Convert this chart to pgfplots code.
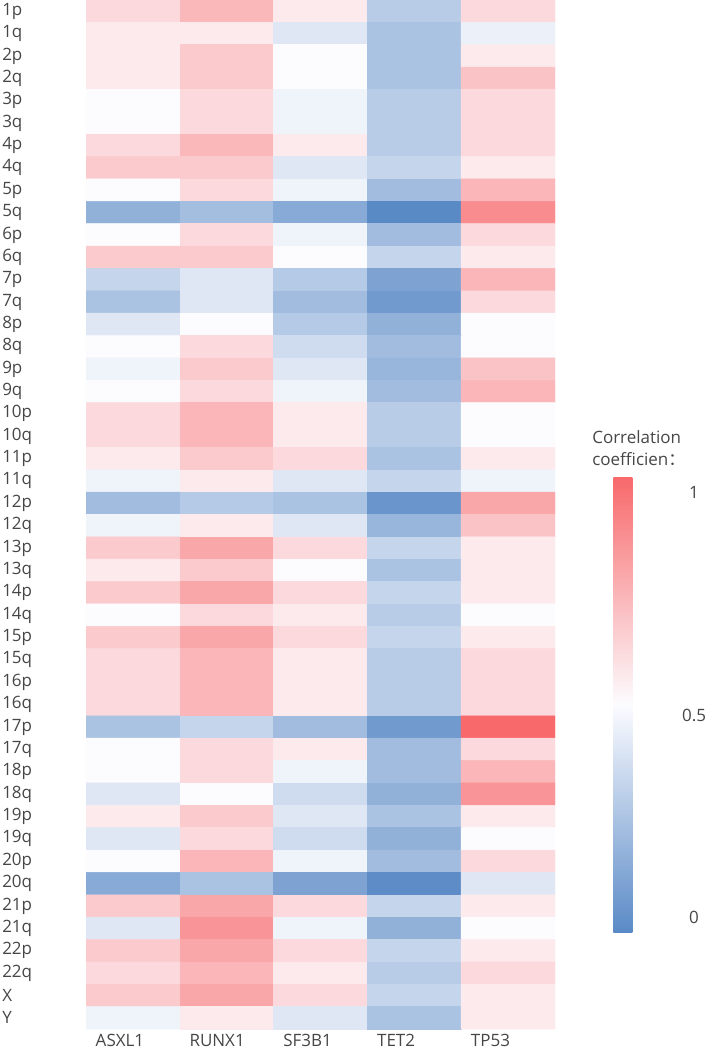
\documentclass[border=0pt]{standalone}
\usepackage{pgfplots}
\pgfplotsset{compat=1.18}
\usepackage{fontspec}
\setmainfont{Open Sans}
\newfontfamily\cjk{Noto Sans CJK SC}
\definecolor{lbl}{RGB}{70,70,70}
\newcommand{\lblfont}{\fontsize{12.75}{15}\selectfont}
\begin{document}
\begin{tikzpicture}[x=0.75pt,y=0.75pt]
\path[use as bounding box] (0,0) rectangle (709,-1049);
\begin{axis}[
  at={(64.5pt,0pt)}, anchor=north west,
  scale only axis, width=351.75pt, height=771.75pt,
  xmin=-0.5, xmax=4.5, ymin=-0.5, ymax=45.5, y dir=reverse,
  axis line style={draw=none}, major tick length=0pt,
  xtick={-0.399,0.601,1.601,2.601,3.601},
  xticklabels={ASXL1,RUNX1,SF3B1,TET2,TP53},
  xticklabel style={anchor=north west, inner sep=0pt, font=\lblfont, text=lbl},
  xticklabel shift=3.5pt,
  ytick={0,...,45},
  yticklabels={1p,1q,2p,2q,3p,3q,4p,4q,5p,5q,6p,6q,7p,7q,8p,8q,9p,9q,10p,10q,
    11p,11q,12p,12q,13p,13q,14p,14q,15p,15q,16p,16q,17p,17q,18p,18q,19p,19q,
    20p,20q,21p,21q,22p,22q,X,Y},
  yticklabel style={anchor=west, inner sep=0pt, font=\lblfont, text=lbl},
  yticklabel shift=63pt,
  colormap={corr}{rgb255(0cm)=(90,138,198); rgb255(1cm)=(252,252,255); rgb255(2cm)=(248,105,107)},
  point meta min=0, point meta max=1,
  colorbar,
  colorbar style={
    scale only axis,
    at={(parent axis.north east)}, anchor=north west,
    xshift=35.25pt, yshift=-357.75pt,
    width=42pt, height=341.25pt,
    y dir=normal,
    axis line style={draw=none}, major tick length=0pt,
    ytick={0.033,0.477,0.965}, yticklabels={0,0.5,1},
    yticklabel style={anchor=center, inner sep=0pt, font=\lblfont, text=lbl},
    yticklabel shift=18.5pt,
  },
]
\addplot[matrix plot*, shader=flat corner, draw=none, mesh/cols=5, point meta=explicit]
  table[row sep=\\, x=x, y=y, meta=v] {
x y v\\
0 0 0.62\\ 1 0 0.73\\ 2 0 0.56\\ 3 0 0.29\\ 4 0 0.62\\
0 1 0.56\\ 1 1 0.56\\ 2 1 0.41\\ 3 1 0.25\\ 4 1 0.45\\
0 2 0.56\\ 1 2 0.67\\ 2 2 0.50\\ 3 2 0.25\\ 4 2 0.56\\
0 3 0.56\\ 1 3 0.67\\ 2 3 0.50\\ 3 3 0.25\\ 4 3 0.69\\
0 4 0.50\\ 1 4 0.62\\ 2 4 0.46\\ 3 4 0.29\\ 4 4 0.62\\
0 5 0.50\\ 1 5 0.62\\ 2 5 0.46\\ 3 5 0.29\\ 4 5 0.62\\
0 6 0.62\\ 1 6 0.73\\ 2 6 0.56\\ 3 6 0.29\\ 4 6 0.62\\
0 7 0.67\\ 1 7 0.67\\ 2 7 0.41\\ 3 7 0.33\\ 4 7 0.56\\
0 8 0.50\\ 1 8 0.62\\ 2 8 0.46\\ 3 8 0.22\\ 4 8 0.74\\
0 9 0.17\\ 1 9 0.23\\ 2 9 0.14\\ 3 9 0.00\\ 4 9 0.88\\
0 10 0.50\\ 1 10 0.62\\ 2 10 0.46\\ 3 10 0.22\\ 4 10 0.62\\
0 11 0.67\\ 1 11 0.67\\ 2 11 0.50\\ 3 11 0.33\\ 4 11 0.56\\
0 12 0.33\\ 1 12 0.41\\ 2 12 0.28\\ 3 12 0.11\\ 4 12 0.74\\
0 13 0.25\\ 1 13 0.41\\ 2 13 0.22\\ 3 13 0.07\\ 4 13 0.62\\
0 14 0.41\\ 1 14 0.50\\ 2 14 0.28\\ 3 14 0.17\\ 4 14 0.50\\
0 15 0.50\\ 1 15 0.62\\ 2 15 0.36\\ 3 15 0.22\\ 4 15 0.50\\
0 16 0.46\\ 1 16 0.67\\ 2 16 0.41\\ 3 16 0.19\\ 4 16 0.69\\
0 17 0.50\\ 1 17 0.62\\ 2 17 0.46\\ 3 17 0.22\\ 4 17 0.74\\
0 18 0.62\\ 1 18 0.74\\ 2 18 0.56\\ 3 18 0.29\\ 4 18 0.50\\
0 19 0.62\\ 1 19 0.74\\ 2 19 0.56\\ 3 19 0.29\\ 4 19 0.50\\
0 20 0.56\\ 1 20 0.67\\ 2 20 0.62\\ 3 20 0.25\\ 4 20 0.56\\
0 21 0.46\\ 1 21 0.56\\ 2 21 0.41\\ 3 21 0.33\\ 4 21 0.46\\
0 22 0.22\\ 1 22 0.28\\ 2 22 0.25\\ 3 22 0.05\\ 4 22 0.79\\
0 23 0.46\\ 1 23 0.56\\ 2 23 0.41\\ 3 23 0.19\\ 4 23 0.69\\
0 24 0.67\\ 1 24 0.79\\ 2 24 0.62\\ 3 24 0.33\\ 4 24 0.56\\
0 25 0.56\\ 1 25 0.67\\ 2 25 0.50\\ 3 25 0.25\\ 4 25 0.56\\
0 26 0.67\\ 1 26 0.79\\ 2 26 0.62\\ 3 26 0.33\\ 4 26 0.56\\
0 27 0.50\\ 1 27 0.62\\ 2 27 0.56\\ 3 27 0.29\\ 4 27 0.50\\
0 28 0.67\\ 1 28 0.79\\ 2 28 0.62\\ 3 28 0.33\\ 4 28 0.56\\
0 29 0.62\\ 1 29 0.74\\ 2 29 0.56\\ 3 29 0.29\\ 4 29 0.62\\
0 30 0.62\\ 1 30 0.74\\ 2 30 0.56\\ 3 30 0.29\\ 4 30 0.62\\
0 31 0.62\\ 1 31 0.74\\ 2 31 0.56\\ 3 31 0.29\\ 4 31 0.62\\
0 32 0.25\\ 1 32 0.33\\ 2 32 0.22\\ 3 32 0.07\\ 4 32 1.00\\
0 33 0.50\\ 1 33 0.62\\ 2 33 0.56\\ 3 33 0.22\\ 4 33 0.62\\
0 34 0.50\\ 1 34 0.62\\ 2 34 0.46\\ 3 34 0.22\\ 4 34 0.74\\
0 35 0.41\\ 1 35 0.50\\ 2 35 0.36\\ 3 35 0.17\\ 4 35 0.85\\
0 36 0.56\\ 1 36 0.67\\ 2 36 0.41\\ 3 36 0.25\\ 4 36 0.56\\
0 37 0.41\\ 1 37 0.62\\ 2 37 0.36\\ 3 37 0.17\\ 4 37 0.50\\
0 38 0.50\\ 1 38 0.74\\ 2 38 0.46\\ 3 38 0.22\\ 4 38 0.62\\
0 39 0.14\\ 1 39 0.25\\ 2 39 0.11\\ 3 39 0.01\\ 4 39 0.41\\
0 40 0.67\\ 1 40 0.79\\ 2 40 0.62\\ 3 40 0.33\\ 4 40 0.56\\
0 41 0.41\\ 1 41 0.85\\ 2 41 0.46\\ 3 41 0.17\\ 4 41 0.50\\
0 42 0.67\\ 1 42 0.79\\ 2 42 0.62\\ 3 42 0.33\\ 4 42 0.56\\
0 43 0.62\\ 1 43 0.74\\ 2 43 0.56\\ 3 43 0.29\\ 4 43 0.62\\
0 44 0.67\\ 1 44 0.79\\ 2 44 0.62\\ 3 44 0.33\\ 4 44 0.56\\
0 45 0.46\\ 1 45 0.56\\ 2 45 0.41\\ 3 45 0.25\\ 4 45 0.56\\
};
\end{axis}
\node[anchor=base west, inner sep=0pt, font=\lblfont, text=lbl] at (592,-443) {Correlation};
\node[anchor=base west, inner sep=0pt, font=\lblfont, text=lbl] at (592,-465) {coefficien\cjk{：}};
\end{tikzpicture}
\end{document}
